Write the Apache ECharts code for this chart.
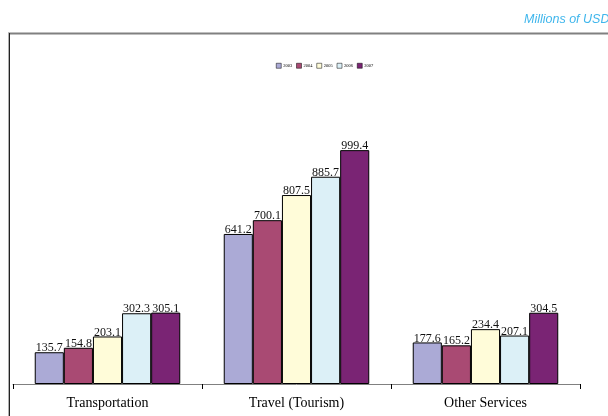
<!DOCTYPE html>
<html>
<head>
<meta charset="utf-8">
<script src="https://cdn.jsdelivr.net/npm/echarts@6/dist/echarts.min.js"></script>
<style>
  html, body { margin: 0; padding: 0; background: #fff; }
  #chart { width: 608px; height: 416px; }
</style>
</head>
<body>
<div id="chart"></div>
<script>
// Service exports by category, 2003–2007 (millions of USD)
const categories = ['Transportation', 'Travel (Tourism)', 'Other Services'];
const years = ['2003', '2004', '2005', '2006', '2007'];
const values2003 = [135.7, 641.2, 177.6];
const values2004 = [154.8, 700.1, 165.2];
const values2005 = [203.1, 807.5, 234.4];
const values2006 = [302.3, 885.7, 207.1];
const values2007 = [305.1, 999.4, 304.5];

const seriesValues = [values2003, values2004, values2005, values2006, values2007];
const colors = ['#abaad6', '#a94a73', '#fffcd9', '#dcf0f7', '#7a2474'];

const chart = echarts.init(document.getElementById('chart'));

chart.setOption({
  animation: false,
  backgroundColor: '#ffffff',
  graphic: [
    {
      type: 'text', left: 524, top: 13,
      style: { text: 'Millions of USD', fontFamily: 'Liberation Sans', fontStyle: 'italic',
               fontSize: 12.5, fill: '#3fb6ec' }
    },
    { type: 'line', shape: { x1: 8, y1: 33.5, x2: 608, y2: 33.5 },
      style: { stroke: '#808080', lineWidth: 2 } },
    { type: 'line', shape: { x1: 8.5, y1: 33, x2: 8.5, y2: 416 },
      style: { stroke: '#b0b0b0', lineWidth: 1 } },
    { type: 'line', shape: { x1: 9.5, y1: 33, x2: 9.5, y2: 416 },
      style: { stroke: '#222', lineWidth: 1 } }
  ],
  legend: {
    top: 63, left: 276, padding: 0,
    itemWidth: 5, itemHeight: 5, itemGap: 4,
    icon: 'rect',
    itemStyle: { borderWidth: 0.5, borderColor: '#000' },
    textStyle: { fontSize: 4.5, fontFamily: 'Liberation Serif', color: '#000', padding: [0, 0, 0, -3] },
    data: years
  },
  grid: { left: 13, right: 28, top: 150, bottom: 32 },
  xAxis: {
    type: 'category',
    data: categories,
    axisLine: { lineStyle: { color: '#808080', width: 1 } },
    axisTick: { show: true, length: 5, lineStyle: { color: '#000' } },
    axisLabel: { margin: 12, fontFamily: 'Liberation Serif', fontSize: 14, color: '#000' }
  },
  yAxis: {
    type: 'value', min: 0, max: 1000, show: false,
    splitLine: { show: false }
  },
  series: years.map((y, i) => ({
    name: y,
    type: 'bar',
    data: seriesValues[i],
    barGap: '0%',
    barCategoryGap: '23%',
    itemStyle: { color: colors[i], borderColor: '#000', borderWidth: 1 },
    label: {
      show: true, position: 'top', distance: -2,
      fontFamily: 'Liberation Serif', fontSize: 12, color: '#111',
      formatter: p => p.value.toFixed(1)
    }
  }))
});
</script>
</body>
</html>
